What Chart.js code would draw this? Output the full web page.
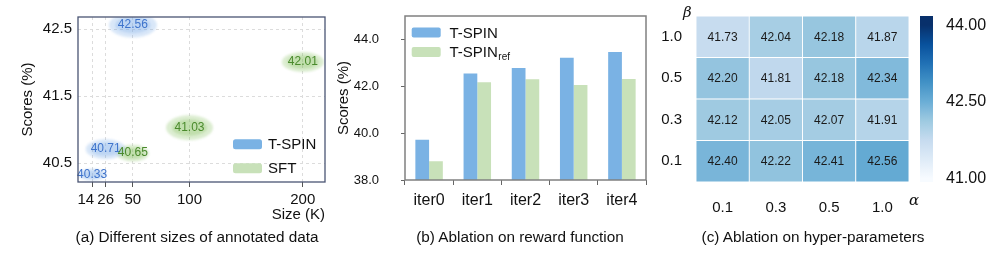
<!DOCTYPE html>
<html><head><meta charset="utf-8">
<script src="https://cdn.jsdelivr.net/npm/chart.js@4.4.1/dist/chart.umd.min.js"></script>
<style>
html,body{margin:0;padding:0;background:#fff;}
body{width:997px;height:258px;position:relative;overflow:hidden;font-family:'Liberation Sans',Arial,sans-serif;color:#111;}
canvas{position:absolute;top:0;}
.cap{position:absolute;top:228px;font-size:15.3px;white-space:nowrap;transform:translateX(-50%);line-height:18px;}
.sym{position:absolute;font-family:'DejaVu Serif','Liberation Serif',serif;font-style:italic;font-size:15px;line-height:18px;}
</style></head><body>
<canvas id="ca" width="330" height="258" style="left:0"></canvas>
<canvas id="cb" width="330" height="258" style="left:330px"></canvas>
<canvas id="cc" width="250" height="258" style="left:660px"></canvas>
<canvas id="cd" width="92" height="258" style="left:905px"></canvas>
<div class="cap" style="left:197px">(a) Different sizes of annotated data</div>
<div class="cap" style="left:520px">(b) Ablation on reward function</div>
<div class="cap" style="left:813px">(c) Ablation on hyper-parameters</div>
<div class="sym" style="left:683px;top:3px">β</div>
<div class="sym" style="left:909px;top:191px">α</div>
<script>
// ---------- DATA ----------
// (a) Different sizes of annotated data
const sizeT = [14, 26, 50];
const scoreT = [40.33, 40.71, 42.56];
const sizeS = [50, 100, 200];
const scoreS = [40.65, 41.03, 42.01];
const sizeTicks = [14, 26, 50, 100, 200];
const scoreTicksA = [40.5, 41.5, 42.5];

// (b) Ablation on reward function
const iters = ['iter0', 'iter1', 'iter2', 'iter3', 'iter4'];
const tspin = [39.72, 42.55, 42.78, 43.22, 43.46];
const tspinRef = [38.80, 42.17, 42.30, 42.06, 42.31];
const scoreTicksB = [38, 40, 42, 44];

// (c) Ablation on hyper-parameters (rows of beta, columns of alpha)
const alphas = ['0.1', '0.3', '0.5', '1.0'];
const betas = ['0.1', '0.3', '0.5', '1.0'];        // bottom -> top
const heatBeta01 = [42.40, 42.22, 42.41, 42.56];
const heatBeta03 = [42.12, 42.05, 42.07, 41.91];
const heatBeta05 = [42.20, 41.81, 42.18, 42.34];
const heatBeta10 = [41.73, 42.04, 42.18, 41.87];
const colorTicks = [41.00, 42.50, 44.00];

// ---------- STYLE ----------
Chart.defaults.font.family = "'Liberation Sans', Arial, sans-serif";
Chart.defaults.color = '#1a1a1a';
Chart.defaults.animation = false;
const C_BLUE = '#7ab2e4', C_GREEN = '#c8e1b9';
const glowT = [[28, 12], [40, 20], [48, 25]];
const glowS = [[32, 17], [47, 25], [42, 20]];
const cmapMin = 41, cmapMax = 44;
const BLUES = [[247,251,255],[222,235,247],[198,219,239],[158,202,225],[107,174,214],[66,146,198],[33,113,181],[8,81,156],[8,48,107]];
function blues(t) {
  t = Math.max(0, Math.min(1, t));
  const p = t * 8, i = Math.min(7, Math.floor(p)), f = p - i;
  const a = BLUES[i], b = BLUES[i + 1];
  return 'rgb(' + a.map((v, k) => Math.round(v + (b[k] - v) * f)).join(',') + ')';
}
function glow(w, h, rgb, a1, a2) {
  const pad = 6, c = document.createElement('canvas');
  c.width = Math.ceil(w + pad * 2); c.height = Math.ceil(h + pad * 2);
  const g = c.getContext('2d');
  g.filter = 'blur(1px)';
  g.fillStyle = 'rgba(' + rgb + ',' + a1 + ')';
  g.beginPath(); g.ellipse(c.width / 2, c.height / 2, w / 2, h / 2, 0, 0, Math.PI * 2); g.fill();
  g.fillStyle = 'rgba(' + rgb + ',' + a2 + ')';
  g.beginPath(); g.ellipse(c.width / 2, c.height / 2, w * 0.37, h * 0.33, 0, 0, Math.PI * 2); g.fill();
  return c;
}
const framePlugin = (color, width) => ({
  id: 'frame',
  afterDraw(chart) {
    const { ctx, chartArea: a } = chart;
    ctx.save(); ctx.strokeStyle = color; ctx.lineWidth = width;
    ctx.strokeRect(a.left, a.top, a.right - a.left, a.bottom - a.top);
    ctx.restore();
  }
});
function roundBox(ctx, x, y, w, h, r, fill) {
  ctx.beginPath(); ctx.roundRect(x, y, w, h, r); ctx.fillStyle = fill; ctx.fill();
}

// ---------- (a) scatter ----------
const pointLabels = {
  id: 'pointLabels',
  afterDatasetsDraw(chart) {
    const ctx = chart.ctx;
    ctx.save();
    ctx.font = "12px 'Liberation Sans', Arial, sans-serif";
    ctx.textAlign = 'center'; ctx.textBaseline = 'middle';
    chart.data.datasets.forEach((ds, di) => {
      chart.getDatasetMeta(di).data.forEach((el, i) => {
        ctx.fillStyle = ds.textColor;
        ctx.fillText(ds.data[i].y.toFixed(2), el.x, el.y);
      });
    });
    ctx.restore();
  }
};
const legendA = {
  id: 'legendA',
  afterDraw(chart) {
    const { ctx, chartArea: a } = chart;
    const items = [['T-SPIN', C_BLUE], ['SFT', C_GREEN]];
    ctx.save();
    ctx.font = "15px 'Liberation Sans', Arial, sans-serif";
    ctx.textBaseline = 'middle';
    items.forEach((it, k) => {
      const y = a.bottom - 42.7 + k * 24;
      roundBox(ctx, a.right - 92, y, 29, 10, 2.5, it[1]);
      ctx.fillStyle = '#111';
      ctx.fillText(it[0], a.right - 57, y + 5.5);
    });
    ctx.restore();
  }
};
new Chart(document.getElementById('ca'), {
  type: 'scatter',
  data: {
    datasets: [
      { label: 'T-SPIN', data: sizeT.map((x, i) => ({ x, y: scoreT[i] })),
        pointStyle: glowT.map(s => glow(s[0], s[1], '120,170,230', 0.28, 0.28)),
        pointRadius: 3, textColor: '#3f74cc' },
      { label: 'SFT', data: sizeS.map((x, i) => ({ x, y: scoreS[i] })),
        pointStyle: glowS.map(s => glow(s[0], s[1], '130,190,90', 0.28, 0.3)),
        pointRadius: 3, textColor: '#4a8a2c' }
    ]
  },
  options: {
    responsive: false, devicePixelRatio: 1,
    layout: { padding: { left: 0, right: 5, top: 17, bottom: 34 } },
    plugins: { legend: { display: false }, tooltip: { enabled: false } },
    scales: {
      x: {
        type: 'linear', min: 1.6, max: 219.6,
        afterBuildTicks: s => { s.ticks = sizeTicks.map(v => ({ value: v })); },
        afterFit: s => { s.height = 42; s.paddingLeft = 0; s.paddingRight = 0; },
        ticks: { autoSkip: false, maxRotation: 0, minRotation: 0, padding: 4,
                 font: { size: 15 }, color: '#111',
                 callback: v => v === 14 ? '14   ' : String(v) },
        grid: { color: '#dcdcdc', tickColor: '#555', tickLength: 5, tickBorderDash: [10, 0] },
        border: { display: false, dash: [3, 3] },
        title: { display: true, text: 'Size (K)', align: 'end', font: { size: 15 }, color: '#111', padding: { top: 0, bottom: 0 } }
      },
      y: {
        min: 40.22, max: 42.68,
        afterBuildTicks: s => { s.ticks = scoreTicksA.map(v => ({ value: v })); },
        afterFit: s => { s.width = 78; s.paddingTop = 0; s.paddingBottom = 0; },
        ticks: { padding: 6, font: { size: 15 }, color: '#111', callback: v => v.toFixed(1) },
        grid: { color: '#dcdcdc', drawTicks: false },
        border: { display: false, dash: [3, 3] },
        title: { display: true, text: 'Scores (%)', font: { size: 15 }, color: '#111', padding: { top: 19, bottom: 0 } }
      }
    }
  },
  plugins: [pointLabels, legendA, framePlugin('#4a5573', 1.3)]
});

// ---------- (b) bars ----------
const legendB = {
  id: 'legendB',
  afterDraw(chart) {
    const { ctx, chartArea: a } = chart;
    ctx.save();
    ctx.textBaseline = 'alphabetic';
    roundBox(ctx, a.left + 6.7, a.top + 11.5, 29, 10, 2, C_BLUE);
    roundBox(ctx, a.left + 6.7, a.top + 31, 29, 10, 2, C_GREEN);
    ctx.fillStyle = '#111';
    ctx.font = "15px 'Liberation Sans', Arial, sans-serif";
    ctx.fillText('T-SPIN', a.left + 44.5, a.top + 21.5);
    ctx.fillText('T-SPIN', a.left + 44.5, a.top + 41);
    const w = ctx.measureText('T-SPIN').width;
    ctx.font = "10px 'Liberation Sans', Arial, sans-serif";
    ctx.fillText('ref', a.left + 45 + w, a.top + 44);
    ctx.restore();
  }
};
new Chart(document.getElementById('cb'), {
  type: 'bar',
  data: {
    labels: iters,
    datasets: [
      { label: 'T-SPIN', data: tspin, backgroundColor: C_BLUE, categoryPercentage: 0.57, barPercentage: 1 },
      { label: 'T-SPIN ref', data: tspinRef, backgroundColor: C_GREEN, categoryPercentage: 0.57, barPercentage: 1 }
    ]
  },
  options: {
    responsive: false, devicePixelRatio: 1,
    layout: { padding: { left: 0, right: 14, top: 16, bottom: 48 } },
    plugins: { legend: { display: false }, tooltip: { enabled: false } },
    scales: {
      x: {
        afterFit: s => { s.height = 30; s.paddingLeft = 0; s.paddingRight = 0; },
        ticks: { padding: 6, font: { size: 16 }, color: '#111' },
        grid: { drawOnChartArea: false, tickLength: 5, color: '#666' },
        border: { display: false }
      },
      y: {
        min: 38, max: 45,
        afterBuildTicks: s => { s.ticks = scoreTicksB.map(v => ({ value: v })); },
        afterFit: s => { s.width = 75; s.paddingTop = 0; s.paddingBottom = 0; },
        ticks: { padding: 22, font: { size: 13 }, color: '#111', callback: v => v.toFixed(1) },
        grid: { drawOnChartArea: false, tickLength: 4, color: '#666' },
        border: { display: false },
        title: { display: true, text: 'Scores (%)', font: { size: 15 }, color: '#111', padding: { top: 4.5, bottom: 0 } }
      }
    }
  },
  plugins: [legendB, framePlugin('#808080', 1.5)]
});

// ---------- (c) heatmap ----------
const heatRows = [heatBeta01, heatBeta03, heatBeta05, heatBeta10];
const cellLabels = {
  id: 'cellLabels',
  afterDatasetsDraw(chart) {
    const ctx = chart.ctx;
    ctx.save();
    ctx.font = "12px 'Liberation Sans', Arial, sans-serif";
    ctx.textAlign = 'center'; ctx.textBaseline = 'middle'; ctx.fillStyle = '#1a1a1a';
    chart.data.datasets.forEach((ds, di) => {
      chart.getDatasetMeta(di).data.forEach((el, i) => {
        const p = el.getCenterPoint();
        ctx.fillText(ds.data[i].v.toFixed(2), p.x, p.y + 0.5);
      });
    });
    ctx.restore();
  }
};
new Chart(document.getElementById('cc'), {
  type: 'bar',
  data: {
    labels: alphas,
    datasets: heatRows.map((row, r) => ({
      label: 'beta ' + betas[r],
      data: row.map((v, c) => ({ x: alphas[c], y: [r, r + 1], v })),
      backgroundColor: ctx => blues((ctx.raw.v - cmapMin) / (cmapMax - cmapMin)),
      borderColor: '#ffffff', borderWidth: 0.8, borderSkipped: false,
      categoryPercentage: 1, barPercentage: 1, grouped: false
    }))
  },
  options: {
    responsive: false, devicePixelRatio: 1,
    layout: { padding: { left: 0, right: 1, top: 16, bottom: 46 } },
    plugins: { legend: { display: false }, tooltip: { enabled: false } },
    scales: {
      x: {
        afterFit: s => { s.height = 30; s.paddingLeft = 0; s.paddingRight = 0; },
        ticks: { padding: 9, font: { size: 15 }, color: '#111' },
        grid: { display: false }, border: { display: false }
      },
      y: {
        type: 'linear', min: 0, max: 4,
        afterBuildTicks: s => { s.ticks = betas.map((b, i) => ({ value: i + 0.5 })); },
        afterFit: s => { s.width = 36; s.paddingTop = 0; s.paddingBottom = 0; },
        ticks: { padding: 6, font: { size: 15 }, color: '#111', callback: v => betas[Math.floor(v)] },
        grid: { display: false }, border: { display: false }
      }
    }
  },
  plugins: [cellLabels]
});

// ---------- (c) colorbar ----------
const cbMin = 40.93, cbMax = 44.18;
new Chart(document.getElementById('cd'), {
  type: 'bar',
  data: {
    labels: ['scale'],
    datasets: [{
      data: [[cbMin, cbMax]],
      backgroundColor: ctx => {
        const chart = ctx.chart; if (!chart.chartArea) return C_BLUE;
        const y = chart.scales.y;
        const g = chart.ctx.createLinearGradient(0, y.getPixelForValue(cmapMin), 0, y.getPixelForValue(cmapMax));
        for (let k = 0; k <= 16; k++) g.addColorStop(k / 16, blues(k / 16));
        return g;
      },
      categoryPercentage: 1, barPercentage: 1, borderWidth: 0
    }]
  },
  options: {
    responsive: false, devicePixelRatio: 1,
    layout: { padding: { left: 15, right: 0, top: 16, bottom: 76 } },
    plugins: { legend: { display: false }, tooltip: { enabled: false } },
    scales: {
      x: { display: false },
      y: {
        position: 'right', min: cbMin, max: cbMax,
        afterBuildTicks: s => { s.ticks = colorTicks.map(v => ({ value: v })); },
        afterFit: s => { s.width = 64; s.paddingTop = 0; s.paddingBottom = 0; },
        ticks: { padding: 5, font: { size: 16 }, color: '#111', callback: v => v.toFixed(2) },
        grid: { display: false }, border: { display: false }
      }
    }
  }
});
</script>
</body></html>
